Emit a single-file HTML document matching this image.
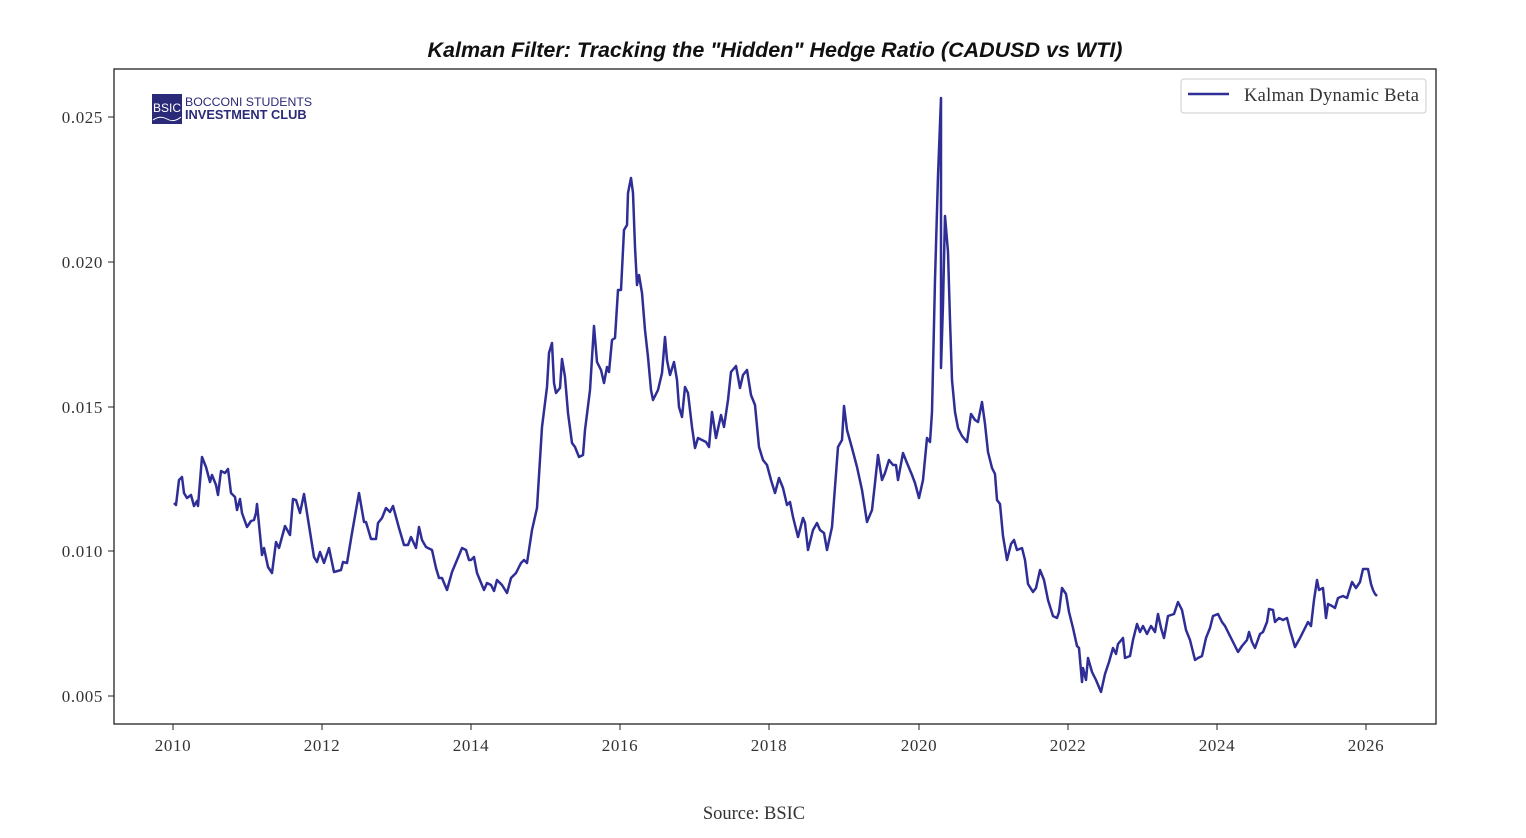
<!DOCTYPE html>
<html><head><meta charset="utf-8"><style>
html,body{margin:0;padding:0;background:#fff;}
svg{display:block;}
</style></head><body>
<svg width="1526" height="838" viewBox="0 0 1526 838" xmlns="http://www.w3.org/2000/svg">
<rect width="1526" height="838" fill="#fff"/>
<text x="775" y="57" text-anchor="middle" font-family="Liberation Sans, sans-serif" font-style="italic" font-weight="bold" font-size="21.5" fill="#111">Kalman Filter: Tracking the "Hidden" Hedge Ratio (CADUSD vs WTI)</text>
<rect x="114" y="69" width="1322" height="655" fill="none" stroke="#222" stroke-width="1.3"/>
<g font-family="Liberation Serif, serif" font-size="17" letter-spacing="0.6" fill="#333" text-anchor="end">
<line x1="108" y1="117" x2="114" y2="117" stroke="#222"/><text x="103" y="123">0.025</text>
<line x1="108" y1="262" x2="114" y2="262" stroke="#222"/><text x="103" y="268">0.020</text>
<line x1="108" y1="407" x2="114" y2="407" stroke="#222"/><text x="103" y="413">0.015</text>
<line x1="108" y1="551" x2="114" y2="551" stroke="#222"/><text x="103" y="557">0.010</text>
<line x1="108" y1="696" x2="114" y2="696" stroke="#222"/><text x="103" y="702">0.005</text>
</g>
<g font-family="Liberation Serif, serif" font-size="17" letter-spacing="0.6" fill="#333" text-anchor="middle">
<line x1="173" y1="724" x2="173" y2="730" stroke="#222"/><text x="173" y="751">2010</text>
<line x1="322" y1="724" x2="322" y2="730" stroke="#222"/><text x="322" y="751">2012</text>
<line x1="471" y1="724" x2="471" y2="730" stroke="#222"/><text x="471" y="751">2014</text>
<line x1="620" y1="724" x2="620" y2="730" stroke="#222"/><text x="620" y="751">2016</text>
<line x1="769" y1="724" x2="769" y2="730" stroke="#222"/><text x="769" y="751">2018</text>
<line x1="919" y1="724" x2="919" y2="730" stroke="#222"/><text x="919" y="751">2020</text>
<line x1="1068" y1="724" x2="1068" y2="730" stroke="#222"/><text x="1068" y="751">2022</text>
<line x1="1217" y1="724" x2="1217" y2="730" stroke="#222"/><text x="1217" y="751">2024</text>
<line x1="1366" y1="724" x2="1366" y2="730" stroke="#222"/><text x="1366" y="751">2026</text>
</g>
<polyline fill="none" stroke="#2e2e96" stroke-width="2.5" stroke-linejoin="round" points="
174,503 176,505 179,480 182,477 184,493 187,498 191,495 194,506 197,501 198,506 202,457 206,467 210,482 212,475 216,485 218,495 221,471 225,473 228,469 231,493 235,497 237,510 240,499 242,513 247,527 251,521 254,520 256,513 257,504 262,555 264,548 268,567 272,573 276,542 279,548 285,526 290,535 293,499 296,500 300,513 304,494 307,513 314,557 317,562 320,552 324,563 329,548 334,572 341,570 343,562 347,563 352,533 359,493 364,522 366,522 371,539 376,539 378,523 382,518 386,508 390,512 393,506 399,528 404,545 408,545 411,537 416,548 419,527 422,540 426,547 432,550 436,568 439,578 442,578 447,590 452,572 457,560 462,548 466,550 469,560 471,560 474,557 477,573 484,590 487,583 491,585 494,591 497,580 502,585 507,593 511,578 516,573 521,563 524,560 527,563 532,530 537,508 542,427 547,387 549,353 552,343 554,383 556,393 560,388 562,359
565,377 568,413 572,443 575,447 579,457 583,455 585,430 590,390 594,326 597,362 601,370 604,383 607,367 609,372 612,340 615,338 618,290 621,290 624,230 627,225 628,193 631,178 633,193 635,247 637,285 639,275 642,293 645,330 648,357 651,390 653,400 658,390 662,373 665,337 667,360 670,375 674,362 677,380 679,407 682,417 685,387 688,393 692,427 695,448 698,438 702,440 706,442 709,447 712,412 716,438 721,415 724,427 728,400 731,372 736,366 740,388 743,375 747,370 751,395 755,405 759,447 763,460 767,465 771,480 775,493 779,478 783,488 787,505 790,502 793,517 798,537 803,518 805,523 808,550 813,530 817,523 820,530 824,533 827,550 832,527 838,447 842,440 844,406 847,430 852,448 857,467 862,490 867,522 872,510 875,483 878,455 882,480 885,473 889,460 893,465 896,465 898,480 903,453 907,463 912,475 915,483 919,498 923,480 927,438 930,442 932,412 935,280 938,176 941,98 941,368 943,304 945,216 948,252 950,320 952,380 955,412 958,428 962,436 967,442 971,414 975,420 978,422 982,402 985,424 988,452 992,468 995,474 997,500 1000,504 1003,536 1007,560 1011,544 1014,540 1017,550 1022,548 1025,560 1028,584 1033,592 1036,588 1040,570 1044,580 1048,600 1053,616 1057,618 1059,612 1062,588 1066,594 1069,612 1073,628 1077,646 1079,648 1082,682 1083,668 1086,680 1088,658 1092,672 1096,680 1101,692 1105,674 1109,662 1113,648 1116,654 1118,644 1123,638 1125,658 1130,656 1133,640 1137,624 1140,632 1143,626 1147,634 1151,626 1155,632 1158,614 1161,628 1164,638 1168,616 1174,614 1178,602 1182,610 1186,630 1190,640 1195,660 1198,658 1202,656 1206,638 1210,628 1213,616 1218,614 1222,622 1225,626 1230,636 1235,646 1238,652 1242,646 1247,640 1249,632 1252,642 1255,648 1260,634 1263,632 1267,622 1269,609 1273,610 1275,622 1279,618 1283,620 1287,618 1290,630 1295,647 1300,638 1304,630 1308,622 1311,626 1314,600 1317,580 1319,590 1323,588 1326,618 1328,604 1332,606 1335,608 1338,598 1343,596 1347,598 1352,582 1356,588 1360,582 1363,569 1368,569 1371,584 1373,590 1375,594 1377,596"/>
<rect x="1181" y="79" width="245" height="34" rx="3" fill="#fff" stroke="#ccc" stroke-width="1"/>
<line x1="1188" y1="94" x2="1229" y2="94" stroke="#2e2e96" stroke-width="2.5"/>
<text x="1244" y="101" font-family="Liberation Serif, serif" font-size="18.5" letter-spacing="0.3" fill="#333">Kalman Dynamic Beta</text>
<rect x="152" y="94" width="30" height="30" fill="#2b2a78"/>
<text x="167" y="112" text-anchor="middle" font-family="Liberation Sans, sans-serif" font-size="12" fill="#fff">BSIC</text>
<path d="M153,120 Q160,115 167,119 T181,117" stroke="#fff" stroke-width="1" fill="none"/>
<text x="185" y="106" font-family="Liberation Sans, sans-serif" font-size="12.3" fill="#2b2a78">BOCCONI STUDENTS</text>
<text x="185" y="119" font-family="Liberation Sans, sans-serif" font-size="12.8" font-weight="bold" fill="#2b2a78">INVESTMENT CLUB</text>
<text x="754" y="819" text-anchor="middle" font-family="Liberation Serif, serif" font-size="18.5" fill="#333">Source: BSIC</text>
</svg>
</body></html>
